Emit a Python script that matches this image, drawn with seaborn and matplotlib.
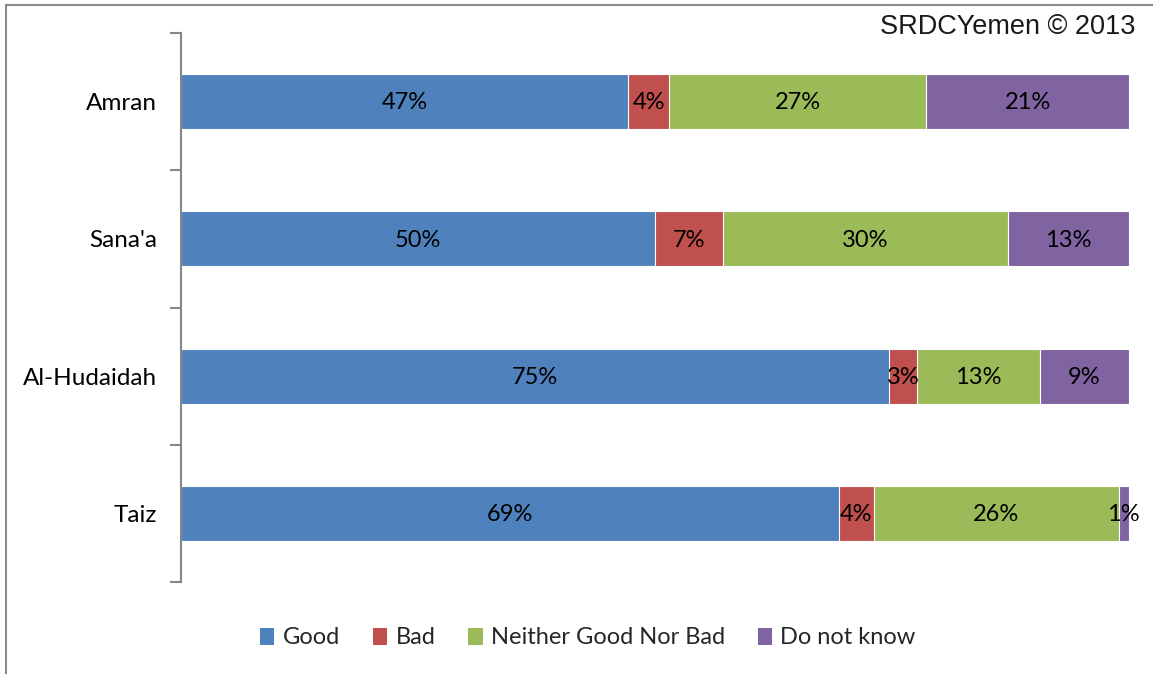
import numpy as np
import pandas as pd
import matplotlib
matplotlib.use("Agg")
import matplotlib.pyplot as plt
import matplotlib.patches as mpatches
from matplotlib.ticker import FixedLocator
import seaborn as sns

regions = ["Amran", "Sana'a", "Al-Hudaidah", "Taiz"]
categories = ["Good", "Bad", "Neither Good Nor Bad", "Do not know"]
good = [47.2, 50.0, 74.7, 69.4]
bad = [4.3, 7.2, 2.9, 3.7]
neither = [27.1, 30.0, 13.0, 25.8]
dont_know = [21.4, 12.8, 9.4, 1.1]
colors = ["#4F81BD", "#C0504D", "#9BBB59", "#8064A2"]
credit = "SRDCYemen \u00a9 2013"

sns.set_theme(style="white")
plt.rcParams["font.family"] = ["Lato", "DejaVu Sans"]

series = [good, bad, neither, dont_know]
df = pd.DataFrame({"region": regions})
for name, vals in zip(categories, series):
    df[name] = vals
cum = df[categories].cumsum(axis=1)

fig = plt.figure(figsize=(11.53, 6.74), dpi=100)
ax = fig.add_axes([181 / 1153, 1 - 582 / 674, (1129 - 181) / 1153, (582 - 33) / 674])

# draw cumulative bars from longest to shortest so they stack visually
for i in range(len(categories) - 1, -1, -1):
    d = pd.DataFrame({"region": regions, "val": cum[categories[i]].values})
    sns.barplot(data=d, y="region", x="val", order=regions, color=colors[i],
                orient="h", width=0.4, edgecolor="white", linewidth=0.8,
                saturation=1, ax=ax)

# labels
for r_i, reg in enumerate(regions):
    start = 0.0
    for c_i, cat in enumerate(categories):
        v = df.loc[r_i, cat]
        ax.text(start + v / 2, r_i + 0.01, f"{int(round(v))}%", ha="center", va="center",
                fontsize=17, color="black")
        start += v

ax.set_xlim(0, 100)
ax.set_ylim(3.5, -0.5)
ax.set_xlabel("")
ax.set_ylabel("")
ax.set_xticks([])
ax.tick_params(axis="y", which="major", length=0, labelsize=17.5, pad=17, labelcolor="black")
ax.yaxis.set_minor_locator(FixedLocator([-0.5, 0.5, 1.5, 2.5, 3.5]))
ax.tick_params(axis="y", which="minor", length=8, width=1.5, color="#868686", left=True)
for s in ["top", "right", "bottom"]:
    ax.spines[s].set_visible(False)
ax.spines["left"].set_color("#868686")
ax.spines["left"].set_linewidth(1.5)

handles = [mpatches.Patch(facecolor=c, edgecolor="none", label=l) for c, l in zip(colors, categories)]
fig.legend(handles=handles, loc="center", bbox_to_anchor=(588 / 1153, 1 - 638 / 674),
           ncol=4, frameon=False, fontsize=17, handlelength=0.6, handleheight=0.7,
           handletextpad=0.35, columnspacing=1.4)

fig.text(1135 / 1153, 1 - 27 / 674, credit, ha="right", va="center", fontsize=19.5,
         family=["Liberation Sans", "DejaVu Sans"], color="#1a1a1a")

border = mpatches.Rectangle((6 / 1153, -0.05), 1.2, 1.05 - 5 / 674, transform=fig.transFigure,
                            fill=False, edgecolor="#8a8a8a", linewidth=1.5, clip_on=False)
fig.add_artist(border)

fig.savefig("out.png", dpi=100)
